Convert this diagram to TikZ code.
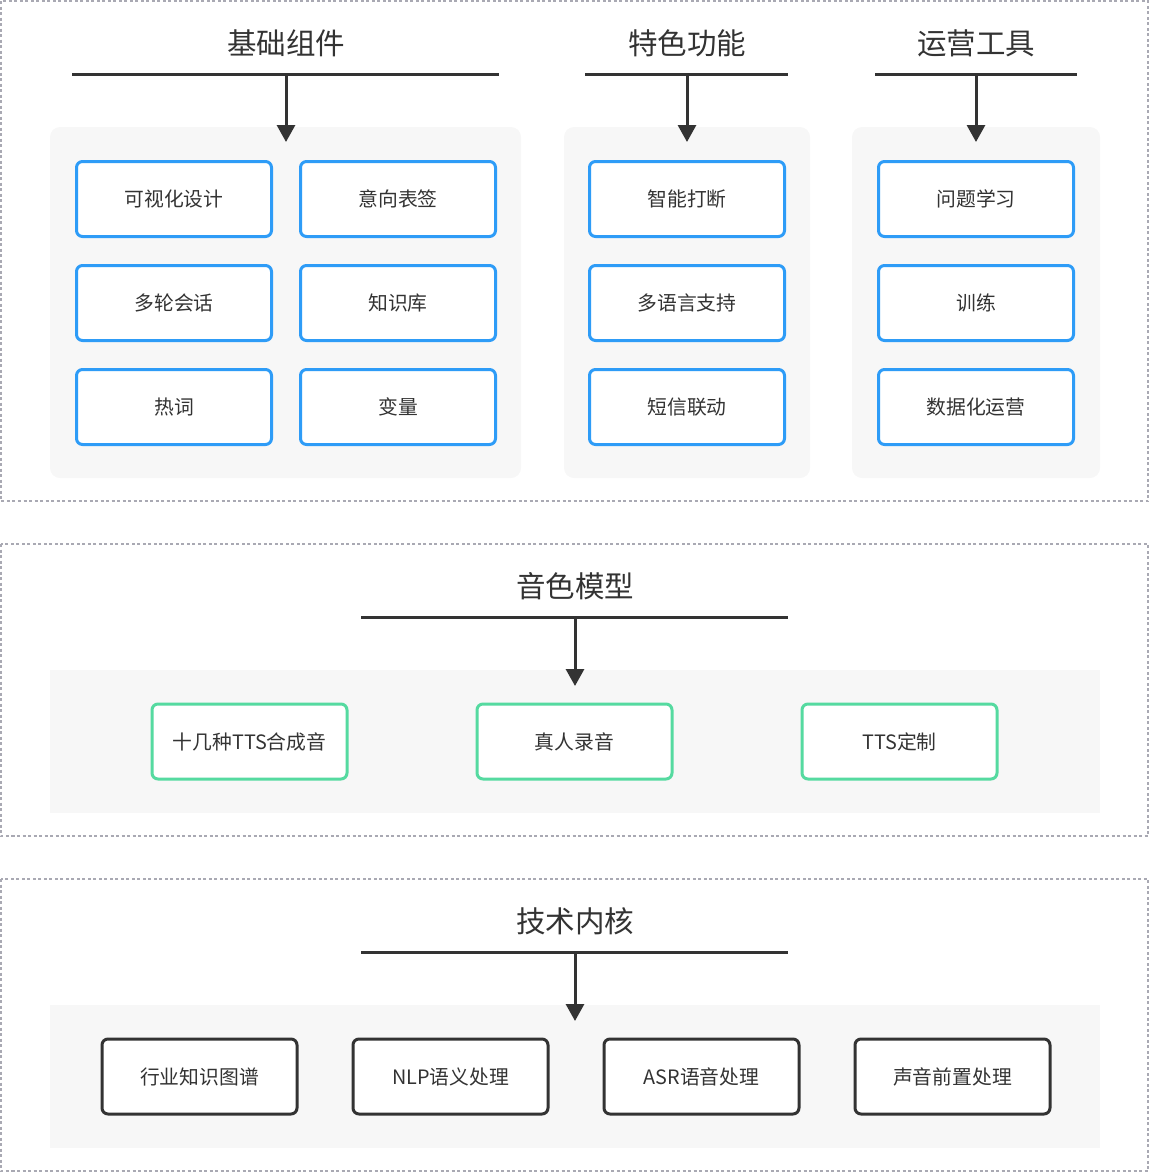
\documentclass[tikz,border=0pt]{standalone}
\usepackage{fontspec}
\setmainfont{Noto Sans CJK SC}
\usetikzlibrary{arrows.meta}
\definecolor{txt}{HTML}{333333}
\definecolor{dashc}{HTML}{A9A9B3}
\definecolor{panelc}{HTML}{F7F7F7}
\definecolor{bluec}{HTML}{2E9CF7}
\definecolor{greenc}{HTML}{55DAA0}
\begin{document}
\begin{tikzpicture}[x=1pt,y=-1pt,
  section/.style={draw=dashc,line width=1.2pt,dash pattern=on 3pt off 2.5pt},
  panel/.style={fill=panelc},
  titletext/.style={text=txt,font=\fontsize{29.5}{34}\selectfont,anchor=center},
  bar/.style={draw=txt,line width=3pt},
  arr/.style={draw=txt,line width=3pt,-{Triangle[width=18pt,length=17pt]}},
  itembox/.style={draw=#1,line width=3pt,fill=white,rounded corners=6pt,minimum width=195pt,minimum height=75pt,inner sep=0pt,text=txt,font=\fontsize{19.8}{23}\selectfont},
]
\useasboundingbox (0,0) rectangle (1150,1173);
% sections
\draw[section] (1,1) rectangle (1148,501);
\draw[section] (1,544) rectangle (1148,836);
\draw[section] (1,879) rectangle (1148,1171);

% ===== section 1 =====
\fill[panel,rounded corners=10pt] (50,127) rectangle (521,478);
\fill[panel,rounded corners=10pt] (564,127) rectangle (810,478);
\fill[panel,rounded corners=10pt] (852,127) rectangle (1100,478);

\node[titletext] (t1) at (286,43) {基础组件};
\node[titletext] (t2) at (687,43) {特色功能};
\node[titletext] (t3) at (976,43) {运营工具};

\coordinate (b1l) at (72,74); \coordinate (b1r) at (499,74); \coordinate (b1m) at (286,74);
\coordinate (b2l) at (585,74); \coordinate (b2r) at (788,74); \coordinate (b2m) at (687,74);
\coordinate (b3l) at (875,74); \coordinate (b3r) at (1077,74); \coordinate (b3m) at (976,74);
\draw[bar] (b1l) -- (b1r);
\draw[bar] (b2l) -- (b2r);
\draw[bar] (b3l) -- (b3r);
\coordinate (a1) at (286,142);
\coordinate (a2) at (687,142);
\coordinate (a3) at (976,142);
\draw[arr] (b1m) -- (a1);
\draw[arr] (b2m) -- (a2);
\draw[arr] (b3m) -- (a3);

\node[itembox=bluec] (n11) at (174,199) {可视化设计};
\node[itembox=bluec] (n12) at (398,199) {意向表签};
\node[itembox=bluec] (n21) at (174,303) {多轮会话};
\node[itembox=bluec] (n22) at (398,303) {知识库};
\node[itembox=bluec] (n31) at (174,407) {热词};
\node[itembox=bluec] (n32) at (398,407) {变量};

\node[itembox=bluec] (s1) at (687,199) {智能打断};
\node[itembox=bluec] (s2) at (687,303) {多语言支持};
\node[itembox=bluec] (s3) at (687,407) {短信联动};

\node[itembox=bluec] (o1) at (976,199) {问题学习};
\node[itembox=bluec] (o2) at (976,303) {训练};
\node[itembox=bluec] (o3) at (976,407) {数据化运营};

% ===== section 2 =====
\fill[panel] (50,670) rectangle (1100,813);
\node[titletext] (t4) at (575,586) {音色模型};
\coordinate (b4l) at (361,617); \coordinate (b4r) at (788,617); \coordinate (b4m) at (575,617);
\draw[bar] (b4l) -- (b4r);
\coordinate (a4) at (575,686);
\draw[arr] (b4m) -- (a4);
\node[itembox=greenc] (g1) at (249.5,741.5) {十几种TTS合成音};
\node[itembox=greenc] (g2) at (574.5,741.5) {真人录音};
\node[itembox=greenc] (g3) at (899.5,741.5) {TTS定制};

% ===== section 3 =====
\fill[panel] (50,1005) rectangle (1100,1148);
\node[titletext] (t5) at (575,921) {技术内核};
\coordinate (b5l) at (361,952); \coordinate (b5r) at (788,952); \coordinate (b5m) at (575,952);
\draw[bar] (b5l) -- (b5r);
\coordinate (a5) at (575,1021);
\draw[arr] (b5m) -- (a5);
\node[itembox=txt] (k1) at (199.5,1076.5) {行业知识图谱};
\node[itembox=txt] (k2) at (450.5,1076.5) {NLP语义处理};
\node[itembox=txt] (k3) at (701.5,1076.5) {ASR语音处理};
\node[itembox=txt] (k4) at (952.5,1076.5) {声音前置处理};
\end{tikzpicture}
\end{document}
